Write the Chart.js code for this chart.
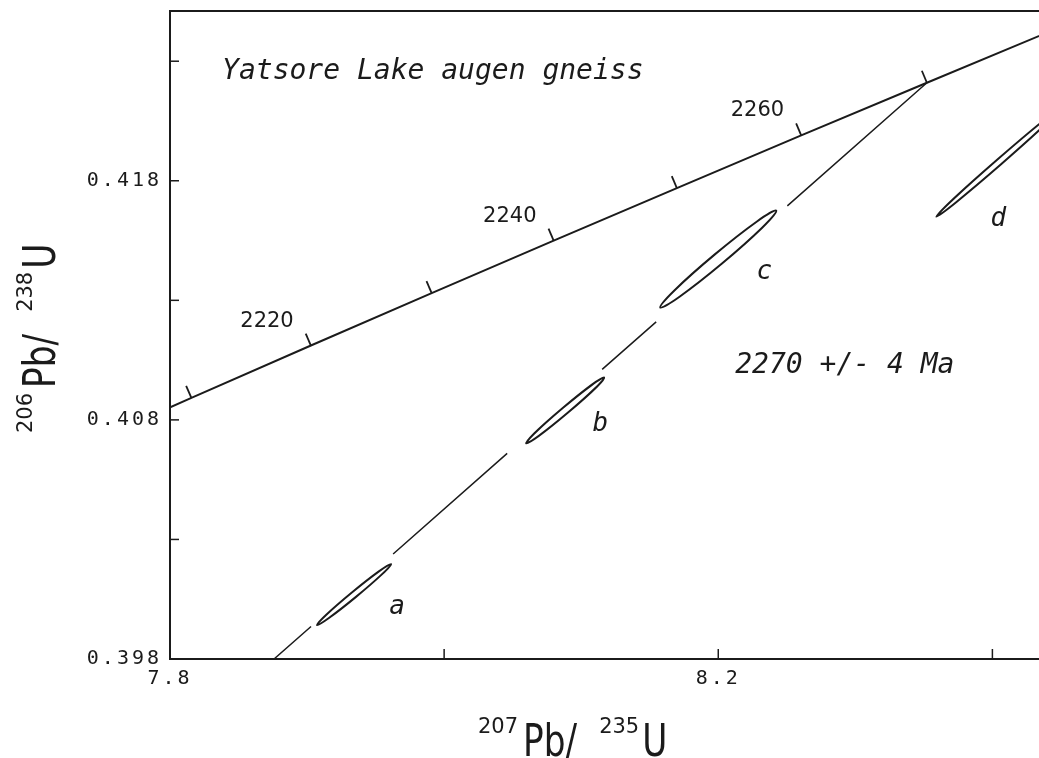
<!DOCTYPE html>
<html>
<head>
<meta charset="utf-8">
<title>Yatsore Lake augen gneiss - concordia</title>
<script src="https://cdn.jsdelivr.net/npm/chart.js@4/dist/chart.umd.min.js"></script>
<style>
  html, body { margin: 0; padding: 0; background: #fff; }
  .wrap { width: 1039px; height: 758px; position: relative; }
</style>
</head>
<body>
<div class="wrap"><canvas id="concordia"></canvas></div>
<script>
// concordia curve, read at every 10 Ma
const concAges = [2200, 2210, 2220, 2230, 2240, 2250, 2260, 2270, 2280, 2290];
const concX = [7.7292, 7.8156, 7.9028, 7.9909, 8.0799, 8.1698, 8.2605, 8.3522, 8.4447, 8.5382];
const concY = [0.40674, 0.40892, 0.41111, 0.41330, 0.41550, 0.41769, 0.41990, 0.42210, 0.42431, 0.42653];
const concTickAges = [2210, 2220, 2230, 2240, 2250, 2260, 2270];
const concLabelAges = [2220, 2240, 2260];

// discordia (broken where it passes the ellipses)
const discX = [7.8759, 7.9029, null, 7.9628, 8.0460, null, 8.1153, 8.1547, null, 8.2504, 8.3522];
const discY = [0.39800, 0.39936, null, 0.40239, 0.40660, null, 0.41011, 0.41210, null, 0.41695, 0.42210];

// error ellipses: lower-left tip and upper-right tip
const ellNames = ["a", "b", "c", "d"];
const ellLoX = [7.9073, 8.0599, 8.1577, 8.3591];
const ellLoY = [0.39942, 0.40702, 0.41270, 0.41650];
const ellHiX = [7.9613, 8.1168, 8.2423, 8.4511];
const ellHiY = [0.40197, 0.40977, 0.41675, 0.42109];
const ellLabelX = [7.9657, 8.1139, 8.2336, 8.4044];
const ellLabelY = [0.40017, 0.40781, 0.41416, 0.41641];

// axes
const xLabelTicks = [7.8, 8.2];
const xMarkTicks = [7.8, 8.0, 8.2, 8.4];
const yLabelTicks = [0.398, 0.408, 0.418];
const yMarkTicks = [0.398, 0.403, 0.408, 0.413, 0.418, 0.423];

const titleText = "Yatsore Lake augen gneiss";
const ageText = "2270 +/- 4 Ma";

const INK = "#1b1b1b";
const ELL_HALF = [3.0, 3.4, 5.8, 3.0]; // px, minor semi-axis

function line(ctx, x1, y1, x2, y2) {
  ctx.beginPath();
  ctx.moveTo(x1, y1);
  ctx.lineTo(x2, y2);
  ctx.stroke();
}

// superscript-style axis title, drawn along +x from (0,0)
function richTitle(ctx, sup1, main1, sup2, main2) {
  ctx.save();
  ctx.fillStyle = INK;
  ctx.textBaseline = "alphabetic";
  ctx.textAlign = "left";
  const SQ = 0.78;
  let cx = 0;
  ctx.font = '21px "DejaVu Sans"';
  ctx.fillText(sup1, cx, -23);
  cx += ctx.measureText(sup1).width + 5;
  ctx.font = '44px "DejaVu Sans"';
  ctx.save(); ctx.translate(cx, 0); ctx.scale(SQ, 1); ctx.fillText(main1, 0, 0); ctx.restore();
  cx += ctx.measureText(main1).width * SQ + 22;
  ctx.font = '21px "DejaVu Sans"';
  ctx.fillText(sup2, cx, -23);
  cx += ctx.measureText(sup2).width + 3;
  ctx.font = '44px "DejaVu Sans"';
  ctx.save(); ctx.translate(cx, 0); ctx.scale(SQ, 1); ctx.fillText(main2, 0, 0); ctx.restore();
  ctx.restore();
}

const overlay = {
  id: "overlay",
  beforeDraw(chart) {
    chart.ctx.letterSpacing = "3px";
  },
  afterDraw(chart) {
    const { ctx, chartArea: a, scales: { x, y } } = chart;
    ctx.save();
    ctx.letterSpacing = "0px";
    ctx.strokeStyle = INK;
    ctx.fillStyle = INK;

    // frame (no right border, it runs off the page)
    ctx.lineWidth = 2;
    ctx.beginPath();
    ctx.moveTo(a.right + 2, a.top);
    ctx.lineTo(a.left, a.top);
    ctx.lineTo(a.left, a.bottom);
    ctx.lineTo(a.right + 2, a.bottom);
    ctx.stroke();

    // inward tick marks
    ctx.lineWidth = 1.5;
    xMarkTicks.forEach(v => {
      const px = x.getPixelForValue(v);
      line(ctx, px, a.bottom, px, a.bottom - 10);
    });
    yMarkTicks.forEach(v => {
      const py = y.getPixelForValue(v);
      line(ctx, a.left, py, a.left + 9, py);
    });

    // inside the plot area
    ctx.save();
    ctx.beginPath();
    ctx.rect(a.left, a.top, a.width + 2, a.height);
    ctx.clip();

    // concordia age ticks + labels
    ctx.lineWidth = 1.8;
    ctx.font = '21px "DejaVu Sans"';
    ctx.textAlign = "right";
    ctx.textBaseline = "alphabetic";
    concTickAges.forEach(age => {
      const i = concAges.indexOf(age);
      const px = x.getPixelForValue(concX[i]), py = y.getPixelForValue(concY[i]);
      const dx = x.getPixelForValue(concX[i + 1]) - x.getPixelForValue(concX[i - 1]);
      const dy = y.getPixelForValue(concY[i + 1]) - y.getPixelForValue(concY[i - 1]);
      const len = Math.hypot(dx, dy);
      const nx = dy / len, ny = -dx / len;
      const ex = px + nx * 13, ey = py + ny * 13;
      line(ctx, px, py, ex, ey);
      if (concLabelAges.includes(age)) {
        ctx.fillText(String(age), ex - 12, ey - 7);
      }
    });

    // error ellipses
    ctx.lineWidth = 2;
    ellNames.forEach((name, i) => {
      const x1 = x.getPixelForValue(ellLoX[i]), y1 = y.getPixelForValue(ellLoY[i]);
      const x2 = x.getPixelForValue(ellHiX[i]), y2 = y.getPixelForValue(ellHiY[i]);
      const cx = (x1 + x2) / 2, cy = (y1 + y2) / 2;
      const rx = Math.hypot(x2 - x1, y2 - y1) / 2;
      const rot = Math.atan2(y2 - y1, x2 - x1);
      ctx.beginPath();
      ctx.ellipse(cx, cy, rx, ELL_HALF[i], rot, 0, Math.PI * 2);
      ctx.stroke();
    });

    // ellipse letters
    ctx.font = 'italic 26px "DejaVu Sans Mono"';
    ctx.textAlign = "center";
    ctx.textBaseline = "middle";
    ellNames.forEach((name, i) => {
      ctx.fillText(name, x.getPixelForValue(ellLabelX[i]), y.getPixelForValue(ellLabelY[i]));
    });

    // annotations
    ctx.font = 'italic 28px "DejaVu Sans Mono"';
    ctx.textAlign = "left";
    ctx.textBaseline = "alphabetic";
    ctx.fillText(titleText, x.getPixelForValue(7.838), y.getPixelForValue(0.42226));
    ctx.fillText(ageText, x.getPixelForValue(8.2124), y.getPixelForValue(0.40994));
    ctx.restore();

    // axis titles
    ctx.save();
    ctx.translate(478, 756);
    richTitle(ctx, "207", "Pb/", "235", "U");
    ctx.restore();

    ctx.save();
    ctx.translate(55, 433);
    ctx.rotate(-Math.PI / 2);
    richTitle(ctx, "206", "Pb/", "238", "U");
    ctx.restore();

    ctx.restore();
  }
};

new Chart(document.getElementById("concordia"), {
  type: "scatter",
  data: {
    datasets: [
      {
        label: "concordia",
        data: concX.map((v, i) => ({ x: v, y: concY[i] })),
        showLine: true,
        borderColor: INK,
        borderWidth: 2,
        pointRadius: 0,
        tension: 0
      },
      {
        label: "discordia",
        data: discX.map((v, i) => ({ x: v, y: discY[i] })),
        showLine: true,
        spanGaps: false,
        borderColor: INK,
        borderWidth: 1.5,
        pointRadius: 0,
        tension: 0
      }
    ]
  },
  options: {
    responsive: true,
    maintainAspectRatio: false,
    animation: false,
    layout: { padding: { top: 11, right: 0, bottom: 0, left: 0 } },
    plugins: { legend: { display: false }, tooltip: { enabled: false } },
    scales: {
      x: {
        type: "linear",
        min: 7.8,
        max: 8.434,
        grid: { display: false },
        border: { display: false },
        afterBuildTicks: s => { s.ticks = xLabelTicks.map(v => ({ value: v })); },
        afterFit: s => { s.height = 99; s.paddingLeft = 0; s.paddingRight = 0; },
        ticks: {
          padding: 0,
          color: INK,
          font: { family: "DejaVu Sans Mono", size: 20 },
          maxRotation: 0,
          callback: v => Number(v).toFixed(1)
        }
      },
      y: {
        type: "linear",
        min: 0.398,
        max: 0.4251,
        grid: { display: false },
        border: { display: false },
        afterBuildTicks: s => { s.ticks = yLabelTicks.map(v => ({ value: v })); },
        afterFit: s => { s.width = 170; s.paddingTop = 0; s.paddingBottom = 0; },
        ticks: {
          padding: 0,
          color: INK,
          font: { family: "DejaVu Sans Mono", size: 20 },
          callback: v => Number(v).toFixed(3)
        }
      }
    }
  },
  plugins: [overlay]
});
</script>
</body>
</html>
